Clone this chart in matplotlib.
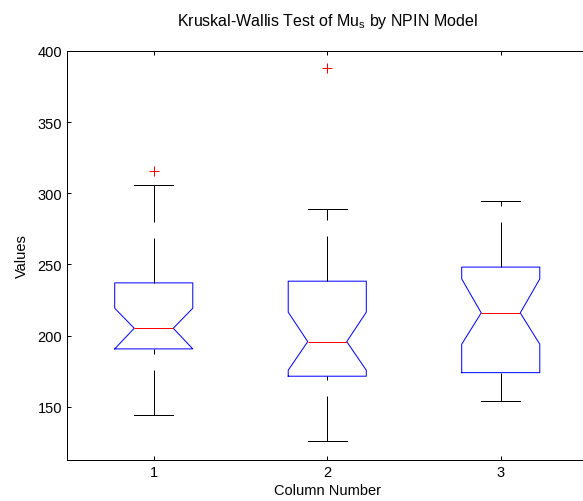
import numpy as np
import matplotlib
matplotlib.use("Agg")
import matplotlib.pyplot as plt

plt.rcParams["font.family"] = ["Liberation Sans", "DejaVu Sans"]
plt.rcParams["font.size"] = 10.5

# box statistics per column
columns = [1, 2, 3]
medians = [205.1, 195.7, 215.9]
q1 = [190.6, 171.4, 173.9]
q3 = [237.0, 238.2, 248.1]
notch_lo = [190.6, 175.6, 193.9]
notch_hi = [219.2, 216.4, 239.8]
whisk_lo = [144.4, 125.7, 153.8]
whisk_hi = [305.5, 288.6, 294.5]
outliers = [[315.3], [387.8], []]

stats = []
for i in range(len(columns)):
    stats.append(dict(med=medians[i], q1=q1[i], q3=q3[i],
                      cilo=notch_lo[i], cihi=notch_hi[i],
                      whislo=whisk_lo[i], whishi=whisk_hi[i],
                      fliers=outliers[i], label=str(columns[i])))

lw = 0.72  # one pixel at 100 dpi
fig = plt.figure(figsize=(5.83, 5.02), dpi=100)
ax = fig.add_axes([67 / 583, 1 - 461 / 502, 520.5 / 583, 409 / 502])

art = ax.bxp(stats, positions=columns, widths=0.45, shownotches=True,
             boxprops=dict(color="blue", linewidth=lw),
             medianprops=dict(color="red", linewidth=lw),
             whiskerprops=dict(color="black", linewidth=lw,
                               linestyle=(0, (45, 16))),
             capprops=dict(color="black", linewidth=lw),
             flierprops=dict(marker="+", markeredgecolor="red",
                             markersize=7, markeredgewidth=lw,
                             linestyle="none"))

# lower whiskers start their dash pattern at the cap
for w in art["whiskers"][0::2]:
    w.set_ydata(w.get_ydata()[::-1])

ax.set_xlim(0.5, 3.5)
ax.set_ylim(112.5, 400)
ax.set_yticks([150, 200, 250, 300, 350, 400])
ax.set_xticks(columns)
ax.set_xticklabels([str(c) for c in columns])
ax.tick_params(direction="in", length=3, width=lw, top=True, right=True)
for s in ax.spines.values():
    s.set_linewidth(lw)

ax.set_title("Kruskal-Wallis Test of Mu$_\\mathregular{s}$ by NPIN Model",
             fontsize=11.5, pad=19)
ax.set_xlabel("Column Number", labelpad=3)
ax.set_ylabel("Values", labelpad=6)

fig.savefig("out.png", dpi=100)
